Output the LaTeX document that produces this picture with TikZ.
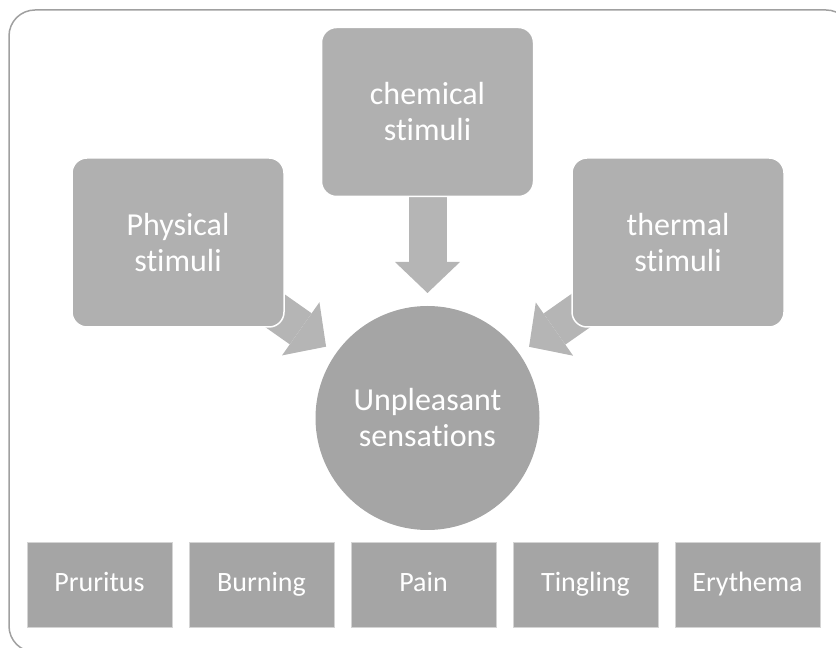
\documentclass[tikz,border=0pt]{standalone}
\usepackage{fontspec}
\setmainfont{Carlito}[Ligatures={NoCommon}]
\usetikzlibrary{arrows.meta,calc,backgrounds}
\definecolor{top_grey}{RGB}{176,176,176}
\definecolor{arrow_grey}{RGB}{181,181,181}
\definecolor{mid_grey}{RGB}{165,165,165}
\definecolor{edge_grey}{RGB}{212,212,212}
\definecolor{frame_grey}{RGB}{160,160,160}
\tikzstyle{stim}=[rectangle,rounded corners=15pt,fill=top_grey,draw=white,
  line width=1.5pt,minimum width=212pt,minimum height=169pt,align=center,
  text=white,font=\fontsize{32}{36}\selectfont]
\tikzstyle{sens}=[circle,fill=mid_grey,minimum size=224pt,inner sep=0pt,
  align=center,text=white,font=\fontsize{32}{36}\selectfont]
\tikzstyle{symp}=[rectangle,fill=mid_grey,draw=edge_grey,line width=0.8pt,
  minimum width=145pt,minimum height=85pt,text height=19pt,text depth=4pt,
  text=white,font=\fontsize{28}{34}\selectfont]
\tikzstyle{bigarrow}=[draw=arrow_grey,line width=38pt,
  -{Triangle[width=65pt,length=31pt,line width=0pt]}]

\begin{document}
\begin{tikzpicture}[x=1pt,y=1pt]
    \clip (0,0) rectangle (836,648);
    \draw [frame_grey,line width=1.5pt,rounded corners=26pt] (9,638) rectangle (852,-4);
    \node [style=stim] (chem) at (427.5,536) {chemical\\stimuli};
    \node [style=stim] (phys) at (178,405.5) {Physical\\stimuli};
    \node [style=stim] (therm) at (678,405.5) {thermal\\stimuli};
    \node [style=sens] (circ) at (427.5,230) {Unpleasant\\sensations};
    \node [style=symp] (prur) at (99.5,63.5) {Pruritus};
    \node [style=symp] (burn) at (261.5,63.5) {Burning};
    \node [style=symp] (pain) at (423.5,63.5) {Pain};
    \node [style=symp] (ting) at (585.5,63.5) {Tingling};
    \node [style=symp] (eryt) at (747.5,63.5) {Erythema};
    \begin{pgfonlayer}{background}
        \draw [style=bigarrow] (chem.center) to ($(circ.center)!125pt!(chem.center)$);
        \draw [style=bigarrow] (phys.center) to ($(circ.center)!124pt!(phys.center)$);
        \draw [style=bigarrow] (therm.center) to ($(circ.center)!124pt!(therm.center)$);
    \end{pgfonlayer}
\end{tikzpicture}
\end{document}
